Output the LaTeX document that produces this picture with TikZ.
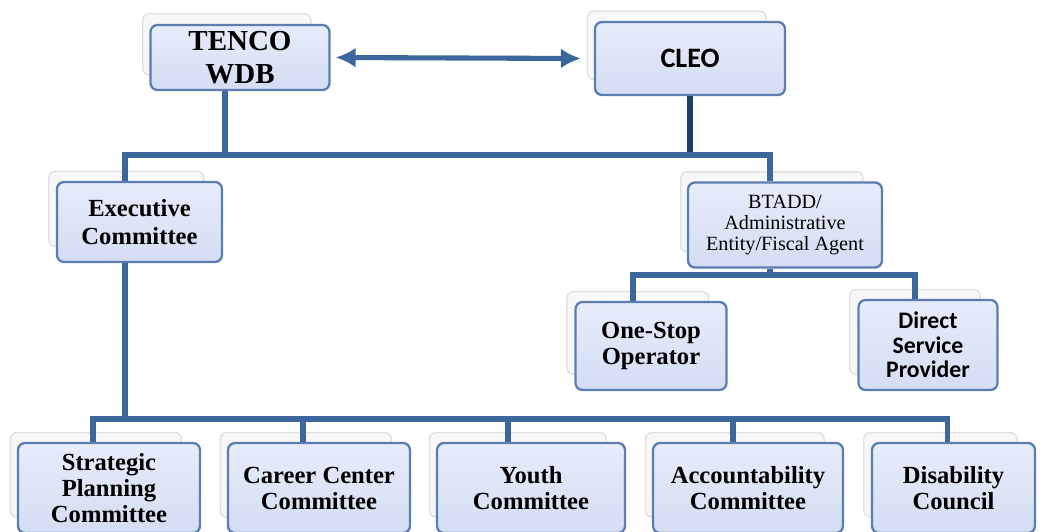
\documentclass[tikz,border=0pt]{standalone}
\usepackage{fontspec}
\usepackage{xcolor}
\usetikzlibrary{arrows.meta, shadows}
\setmainfont{Liberation Serif}
\newfontfamily\calfont{Carlito}

\definecolor{boxtop}{HTML}{E6ECFA}
\definecolor{boxbot}{HTML}{D4DDF3}
\definecolor{boxedge}{HTML}{5B7DAF}
\definecolor{linkblue}{HTML}{3C679C}
\definecolor{linkdark}{HTML}{1F3E66}

\begin{document}
\begin{tikzpicture}[
    unit/.style={
      rectangle,
      rounded corners=4pt,
      draw=boxedge,
      line width=1.3pt,
      top color=boxtop,
      bottom color=boxbot,
      align=center,
      inner sep=2pt,
      font=\bfseries,
      general shadow={shadow xshift=-0.28cm, shadow yshift=0.28cm,
        shadow scale=0.94, fill=gray!6, draw=gray!25, line width=0.8pt}
    },
    link/.style={line width=2.9pt, draw=linkblue, line join=miter},
    both/.style={{Latex[length=4mm,width=4mm]}-{Latex[length=4mm,width=4mm]}, line width=2.9pt, draw=linkblue}
  ]
    \useasboundingbox (0,0) rectangle (21.08,-10.62);

    % top level
    \node[unit, minimum width=3.58cm, minimum height=1.30cm,
      font=\bfseries\fontsize{16.5}{18.7}\selectfont] (tenco) at (4.80,-1.15) {TENCO\\WDB};
    \node[unit, minimum width=3.80cm, minimum height=1.46cm,
      font=\calfont\bfseries\fontsize{16}{18}\selectfont] (cleo) at (13.80,-1.17) {CLEO};

    % second level
    \node[unit, minimum width=3.30cm, minimum height=1.60cm,
      font=\bfseries\fontsize{14}{16}\selectfont] (exec) at (2.79,-4.44) {Executive\\Committee};
    \node[unit, minimum width=3.88cm, minimum height=1.70cm,
      font=\fontsize{11.5}{12}\selectfont] (btadd) at (15.70,-4.50) {BTADD/\\Administrative\\Entity/Fiscal Agent};

    % under BTADD
    \node[unit, minimum width=3.02cm, minimum height=1.76cm,
      font=\bfseries\fontsize{14}{14.5}\selectfont] (onestop) at (13.02,-6.92) {One-Stop\\Operator};
    \node[unit, minimum width=2.78cm, minimum height=1.80cm,
      font=\calfont\bfseries\fontsize{13.5}{14}\selectfont] (direct) at (18.56,-6.90) {Direct\\Service\\Provider};

    % committees
    \tikzset{committee/.style={unit, minimum height=1.80cm, font=\bfseries\fontsize{14}{14.8}\selectfont}}
    \node[committee, minimum width=3.64cm] (strat) at (2.18,-9.76) {Strategic\\Planning\\Committee};
    \node[committee, minimum width=3.64cm] (career) at (6.38,-9.76) {Career Center\\Committee};
    \node[committee, minimum width=3.76cm] (youth) at (10.62,-9.76) {Youth\\Committee};
    \node[committee, minimum width=3.80cm] (account) at (14.96,-9.76) {Accountability\\Committee};
    \node[committee, minimum width=3.26cm] (disab) at (19.07,-9.76) {Disability\\Council};

    \coordinate (topbus) at (0,-3.10);
    \coordinate (midbus) at (0,-5.50);
    \coordinate (lowbus) at (0,-8.38);

    \draw[both] ([xshift=1mm]tenco.east) -- ([xshift=-2.6mm]cleo.west);

    \draw[link] ([xshift=-3mm]tenco.south) -- ([xshift=-3mm]tenco.south |- topbus);
    \draw[link, draw=linkdark, line width=3.4pt] (cleo.south) -- (cleo.south |- topbus);
    \draw[link] ([xshift=-2.9mm]exec.north) |- ([xshift=-3mm]btadd.north |- topbus) -- ([xshift=-3mm]btadd.north);

    \draw[link] ([xshift=-3mm]btadd.south) -- ([xshift=-3mm]btadd.south |- midbus);
    \draw[link] ([xshift=-3.6mm]onestop.north) |- ([xshift=-2.6mm]direct.north |- midbus) -- ([xshift=-2.6mm]direct.north);

    \draw[link] ([xshift=-2.9mm]exec.south) -- ([xshift=-2.9mm]exec.south |- lowbus);
    \draw[link] ([xshift=-3.2mm]strat.north) |- ([xshift=-1.2mm]disab.north |- lowbus) -- ([xshift=-1.2mm]disab.north);
    \foreach \n/\s in {career/-3.2mm, youth/-4.6mm, account/-3mm}
      \draw[link] ([xshift=\s]\n.north) -- ([xshift=\s]\n.north |- lowbus);
  \end{tikzpicture}
\end{document}
